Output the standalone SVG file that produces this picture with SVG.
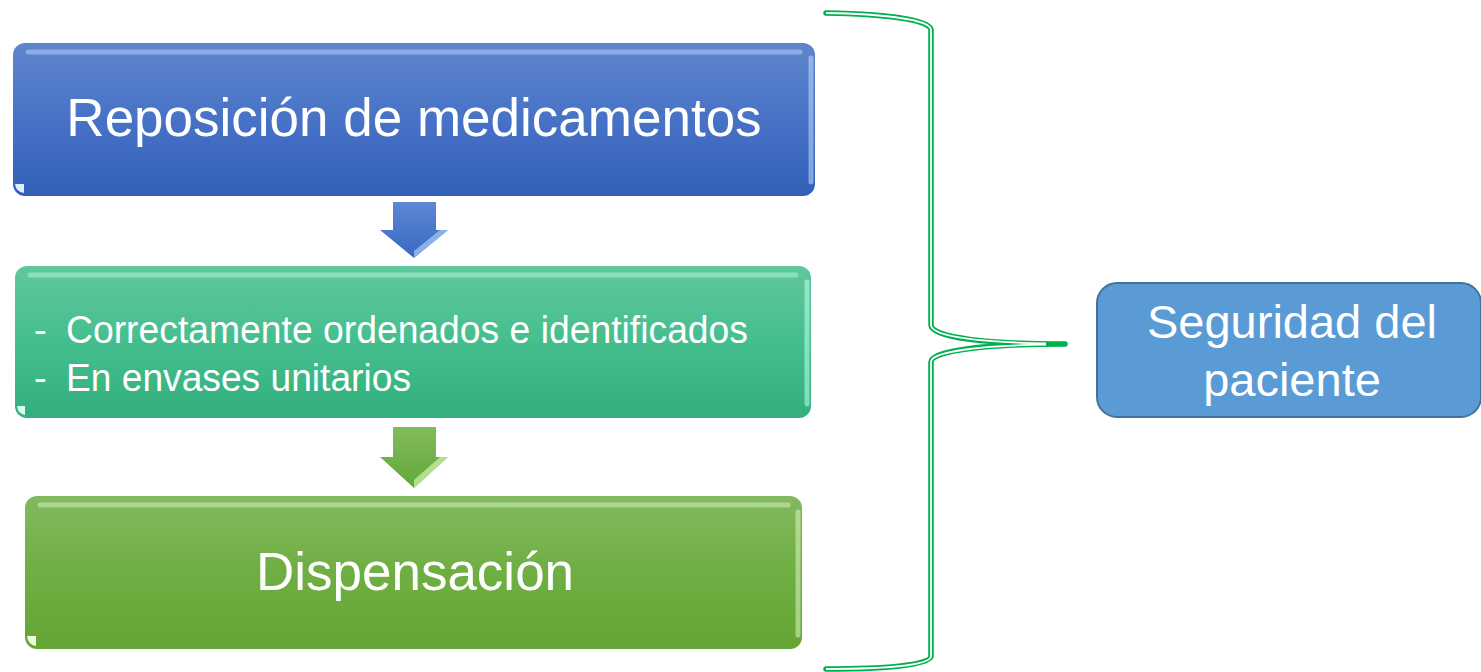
<svg xmlns="http://www.w3.org/2000/svg" width="1481" height="672" viewBox="0 0 1481 672">
<defs>
<linearGradient id="gBlue" x1="0" y1="0" x2="0" y2="1">
<stop offset="0" stop-color="#5f86cc"/><stop offset="0.5" stop-color="#4772c6"/><stop offset="1" stop-color="#335fb8"/>
</linearGradient>
<linearGradient id="gTeal" x1="0" y1="0" x2="0" y2="1">
<stop offset="0" stop-color="#60c79c"/><stop offset="0.5" stop-color="#45be8e"/><stop offset="1" stop-color="#32af7d"/>
</linearGradient>
<linearGradient id="gGreen" x1="0" y1="0" x2="0" y2="1">
<stop offset="0" stop-color="#84b960"/><stop offset="0.5" stop-color="#6fae42"/><stop offset="1" stop-color="#65a535"/>
</linearGradient>
<linearGradient id="gArrB" x1="0" y1="0" x2="0" y2="1">
<stop offset="0" stop-color="#5d88d6"/><stop offset="1" stop-color="#3a67c2"/>
</linearGradient>
<linearGradient id="gArrG" x1="0" y1="0" x2="0" y2="1">
<stop offset="0" stop-color="#82bc5c"/><stop offset="1" stop-color="#62a838"/>
</linearGradient>
</defs>
<style>
.t{font-family:"Liberation Sans",Arial,sans-serif;fill:#ffffff}
.hl{fill:none;stroke-width:5;stroke-linecap:round;opacity:0.55}
.brace{fill:none;stroke:#00b050;stroke-width:5.5;stroke-linejoin:round;stroke-linecap:round}
.braceIn{fill:none;stroke:#ffffff;stroke-width:1.8;stroke-linecap:butt}
</style>

<g id="node-reposicion">
<rect x="13" y="43" width="802" height="153" rx="12" fill="url(#gBlue)"/>
<line class="hl" x1="28" y1="52" x2="800" y2="52" stroke="#b4cef6"/>
<line class="hl" x1="811" y1="58" x2="811" y2="182" stroke="#c0dcff"/>
<path d="M15 184 L24 184 L24 193 Q16 192 15 184 Z" fill="#dfeeff"/>
<text class="t" x="414" y="136" font-size="53" text-anchor="middle">Reposición de medicamentos</text>
</g>

<g id="node-ordenados">
<rect x="15" y="266" width="796" height="152" rx="12" fill="url(#gTeal)"/>
<line class="hl" x1="30" y1="275" x2="796" y2="275" stroke="#b0f4d8"/>
<line class="hl" x1="807" y1="282" x2="807" y2="404" stroke="#c0ffec"/>
<path d="M17 406 L25 406 L25 415 Q18 414 17 406 Z" fill="#d8fff2"/>
<text class="t" x="34" y="343" font-size="38">-</text>
<text class="t" x="66" y="343" font-size="38" textLength="682" lengthAdjust="spacingAndGlyphs">Correctamente ordenados e identificados</text>
<text class="t" x="34" y="391" font-size="38">-</text>
<text class="t" x="66" y="391" font-size="38" textLength="345" lengthAdjust="spacingAndGlyphs">En envases unitarios</text>
</g>

<g id="node-dispensacion">
<rect x="25" y="496" width="777" height="153" rx="12" fill="url(#gGreen)"/>
<line class="hl" x1="40" y1="505" x2="788" y2="505" stroke="#d0f0b4"/>
<line class="hl" x1="798" y1="512" x2="798" y2="635" stroke="#d8f8c0"/>
<path d="M27 636 L36 636 L36 646 Q28 645 27 636 Z" fill="#eaffdc"/>
<text class="t" x="415" y="590" font-size="53" text-anchor="middle">Dispensación</text>
</g>

<g id="node-seguridad">
<rect x="1097" y="283" width="384" height="134" rx="20" fill="#5b9bd5" stroke="#41719c" stroke-width="2"/>
<text class="t" x="1292" y="338" font-size="47" text-anchor="middle">Seguridad del</text>
<text class="t" x="1292" y="396" font-size="47" text-anchor="middle">paciente</text>
</g>

<g id="connectors">
<g id="arrow1">
<path d="M393 202 L436 202 L436 230 L448 230 L414 258 L380 230 L393 230 Z" fill="url(#gArrB)"/>
<path d="M414 258 L448 230 L440 230 L414 251 Z" fill="#9cc0f2" opacity="0.8"/>
</g>
<g id="arrow2">
<path d="M393 427 L436 427 L436 457 L448 457 L414 488 L380 457 L393 457 Z" fill="url(#gArrG)"/>
<path d="M414 488 L448 457 L440 457 L414 480 Z" fill="#c2eca0" opacity="0.8"/>
</g>
<g id="brace">
<path class="brace" d="M826 13 C880 14 931 19 931 30 L931 325 C931 338 990 344 1065 344 C990 344 931 350 931 362 L931 656 C931 666 880 669 826 669"/>
<path class="braceIn" d="M826 13 C880 14 931 19 931 30 L931 325 C931 337 985 342.6 1046 343.3"/>
<path class="braceIn" d="M1046 344.7 C985 345.4 931 351 931 362 L931 656 C931 666 880 669 826 669"/>
</g>
</g>
</svg>
